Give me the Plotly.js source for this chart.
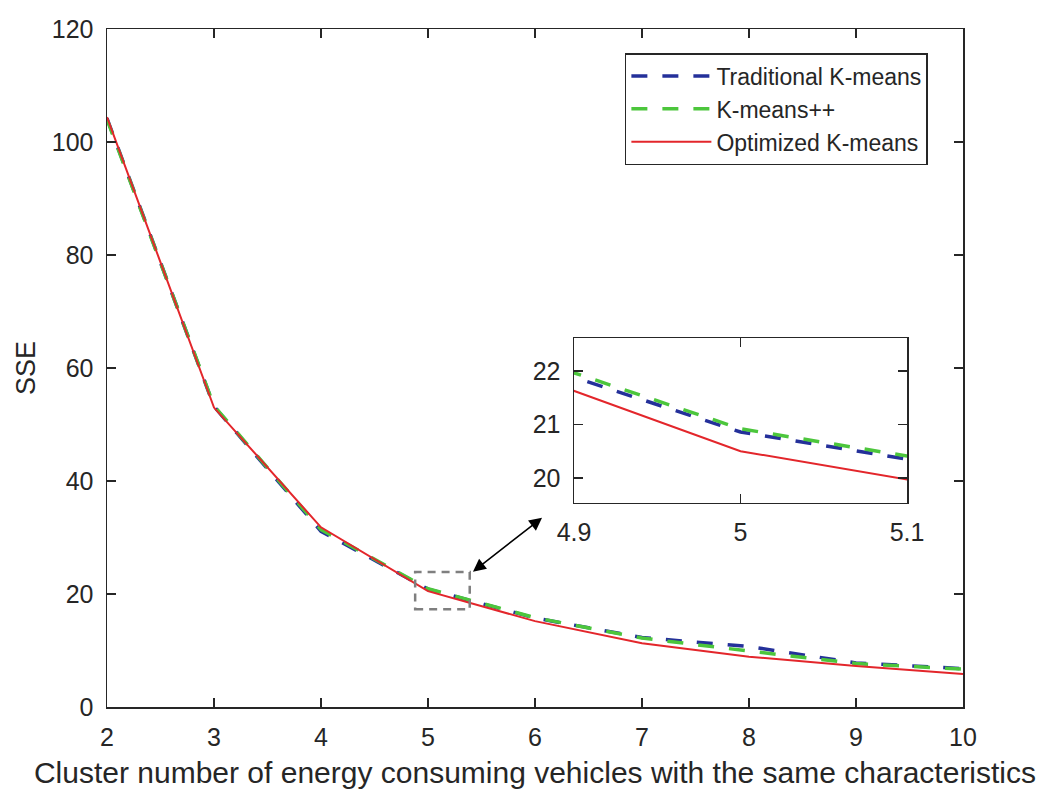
<!DOCTYPE html>
<html>
<head>
<meta charset="utf-8">
<script src="https://cdn.plot.ly/plotly-3.0.1.min.js"></script>
<style>html,body{margin:0;padding:0;background:#fff;}#chart{width:1038px;height:812px;}</style>
</head>
<body>
<div id="chart"></div>
<script>
// Data
const clusters = [2, 3, 4, 5, 6, 7, 8, 9, 10];
const traditionalKmeans = [104.2, 53.2, 31.1, 20.86, 15.76, 12.3, 10.7, 7.8, 6.8];
const kmeansPlusPlus = [104.0, 53.3, 31.4, 20.92, 15.82, 12.2, 9.9, 7.7, 6.7];
const optimizedKmeans = [104.4, 53.0, 31.8, 20.5, 15.2, 11.3, 8.9, 7.25, 5.85];
const seriesNames = ['Traditional K-means', 'K-means++', 'Optimized K-means'];
const xTicks = [2, 3, 4, 5, 6, 7, 8, 9, 10];
const yTicks = [0, 20, 40, 60, 80, 100, 120];
const insetXTicks = [4.9, 5, 5.1];
const insetYTicks = [20, 21, 22];

const FONT = 'Liberation Sans, Arial, Helvetica, sans-serif';
const TXT = '#262626';
const BLUE = '#24309a';
const GREEN = '#4cc63c';
const RED = '#e3262b';

function series(axisX, axisY, legend) {
  return [
    {x: clusters, y: traditionalKmeans, name: seriesNames[0], mode: 'lines', xaxis: axisX, yaxis: axisY,
     showlegend: legend, line: {color: BLUE, width: 3.5, dash: '16px,15px'}},
    {x: clusters, y: kmeansPlusPlus, name: seriesNames[1], mode: 'lines', xaxis: axisX, yaxis: axisY,
     showlegend: legend, line: {color: GREEN, width: 3.5, dash: '16px,15px'}},
    {x: clusters, y: optimizedKmeans, name: seriesNames[2], mode: 'lines', xaxis: axisX, yaxis: axisY,
     showlegend: legend, line: {color: RED, width: 2}}
  ];
}

const data = series('x', 'y', true).concat(series('x2', 'y2', false));

const axisCommon = {
  showgrid: false, zeroline: false, showline: true, linecolor: TXT, linewidth: 1.5,
  mirror: 'ticks', ticks: 'inside', ticklen: 9, tickwidth: 1.5, tickcolor: TXT,
  ticklabelstandoff: 7,
  tickfont: {family: FONT, size: 25, color: TXT}
};

const layout = {
  width: 1038, height: 812,
  margin: {l: 107, r: 75, t: 29, b: 105},
  paper_bgcolor: '#ffffff', plot_bgcolor: '#ffffff',
  font: {family: FONT, color: TXT},
  xaxis: Object.assign({}, axisCommon, {
    domain: [0, 1], range: [2, 10], tickvals: xTicks, ticktext: xTicks.map(String),
    title: {text: 'Cluster number of energy consuming vehicles with the same characteristics',
            font: {family: FONT, size: 30, color: TXT}, standoff: 12}
  }),
  yaxis: Object.assign({}, axisCommon, {
    domain: [0, 1], range: [0, 120], tickvals: yTicks, ticktext: yTicks.map(String),
    title: {text: 'SSE', font: {family: FONT, size: 27, color: TXT}, standoff: 8}
  }),
  xaxis2: Object.assign({}, axisCommon, {
    domain: [0.5456, 0.9346], range: [4.9, 5.1], anchor: 'y2',
    tickvals: insetXTicks, ticktext: insetXTicks.map(String)
  }),
  yaxis2: Object.assign({}, axisCommon, {
    domain: [0.3009, 0.5442], range: [19.53, 22.62], anchor: 'x2',
    tickvals: insetYTicks, ticktext: insetYTicks.map(String)
  }),
  legend: {
    x: 0.605, y: 0.9646, xanchor: 'left', yanchor: 'top',
    bgcolor: '#ffffff', bordercolor: TXT, borderwidth: 1.5,
    font: {family: FONT, size: 23, color: TXT},
    itemwidth: 80, tracegroupgap: 0
  },
  shapes: [
    {type: 'rect', xref: 'x', yref: 'y', x0: 4.88, x1: 5.39, y0: 17.3, y1: 23.9,
     line: {color: '#7f7f7f', width: 2.5, dash: '8px,6px'}, layer: 'above'}
  ],
  annotations: [
    {xref: 'x', yref: 'y', axref: 'x', ayref: 'y', x: 5.42, y: 23.95, ax: 6.08, ay: 33.7,
     text: '', showarrow: true, arrowside: 'end+start', arrowhead: 2, startarrowhead: 2,
     arrowsize: 1.6, startarrowsize: 1.6, arrowwidth: 1.6, arrowcolor: '#000000', standoff: 0, startstandoff: 0}
  ]
};

Plotly.newPlot('chart', data, layout, {displayModeBar: false, staticPlot: true});
</script>
</body>
</html>
